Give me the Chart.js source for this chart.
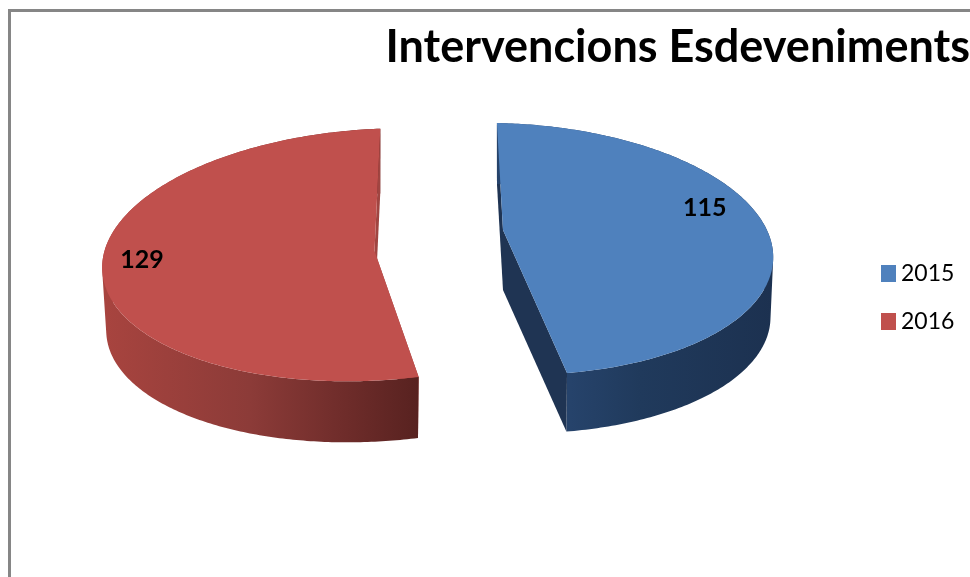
<!DOCTYPE html>
<html><head><meta charset="utf-8">
<style>
html,body{margin:0;padding:0;background:#fff;overflow:hidden}
#wrap{position:absolute;left:0;top:0;width:970px;height:577px}
#frame{position:absolute;left:8px;top:9px;width:962px;height:568px;border-left:3px solid #868686;border-top:3px solid #868686;box-sizing:border-box}
canvas{position:absolute;left:0;top:0}
</style>
<script src="https://cdn.jsdelivr.net/npm/chart.js@4"></script>
</head><body>
<div id="wrap"><div id="frame"></div><canvas id="c" width="970" height="577"></canvas></div>
<script>
const chartTitle = 'Intervencions Esdeveniments';
const categories = ['2015', '2016'];
const values = [115, 129];
const sliceColors = ['#4f81bd', '#c0504d'];

// Perspective view of each exploded slice
const views = [
  {ax:503, ay:230, rx:266, ry:123, k:0.15, sxy:7,  syx:5,   depth:60, bs:0.99,
   cut:'#1f3453', wall:[[570,'#26436b'],[640,'#203a5c'],[773,'#1c3150']], lx:0.758, ly:-0.18},
  {ax:374.5, ay:251, rx:272, ry:126, k:0.03, sxy:-6, syx:-10, depth:63, bs:0.985,
   cut:'#a04541', wall:[[103,'#a8443f'],[250,'#8c3b38'],[340,'#702d2b'],[418,'#582220']], lx:-0.855, ly:0.07}
];

function project(v, th, r){
  const u = r*Math.sin(th), w = -r*Math.cos(th), s = 1/(1 - v.k*w);
  return [v.ax + (v.rx*u + v.sxy*w)*s, v.ay + (v.ry*w + v.syx*u)*s];
}

const pie3d = {
  id:'pie3d',
  beforeDatasetsDraw(chart){
    const ctx = chart.ctx, meta = chart.getDatasetMeta(0);
    meta.data.forEach((arc,i)=>{
      const v = views[i], a0 = arc.startAngle + Math.PI/2, a1 = arc.endAngle + Math.PI/2;
      const n = Math.ceil((a1-a0)/(Math.PI/240));
      const rim = [];
      for(let j=0;j<=n;j++) rim.push(project(v, a0+(a1-a0)*j/n, 1));
      const apex = project(v,0,0);
      const low = p=>[apex[0]+(p[0]-apex[0])*v.bs, apex[1]+(p[1]-apex[1])*v.bs+v.depth];
      const trace = pts=>{
        let area=0;
        pts.forEach((p,j)=>{const q=pts[(j+1)%pts.length];area+=p[0]*q[1]-q[0]*p[1];});
        const seq = area<0 ? pts.slice().reverse() : pts;
        seq.forEach((p,j)=>j?ctx.lineTo(p[0],p[1]):ctx.moveTo(p[0],p[1]));
        ctx.closePath();
      };
      const poly = (pts,fill)=>{ctx.beginPath();trace(pts);ctx.fillStyle=fill;ctx.fill();};
      ctx.save();
      poly([apex,rim[0],low(rim[0]),low(apex)],v.cut);
      const xs = v.wall.map(s=>s[0]), x0=xs[0], x1=xs[xs.length-1];
      const g = ctx.createLinearGradient(x0,0,x1,0);
      v.wall.forEach(s=>g.addColorStop((s[0]-x0)/(x1-x0),s[1]));
      ctx.beginPath();
      for(let j=0;j<n;j++) trace([rim[j],rim[j+1],low(rim[j+1]),low(rim[j])]);
      ctx.fillStyle=g;ctx.fill();
      poly([apex,rim[n],low(rim[n]),low(apex)],v.cut);
      poly([apex].concat(rim),chart.data.datasets[0].backgroundColor[i]);
      ctx.restore();
    });
    return false;
  },
  afterDraw(chart){
    const ctx = chart.ctx, ds = chart.data.datasets[0];
    ctx.save();
    ctx.textBaseline='middle';
    // value labels
    ctx.font='bold 25px Lato';ctx.fillStyle='#000';ctx.textAlign='center';
    ds.data.forEach((val,i)=>{
      const v=views[i];
      ctx.fillText(String(val), v.ax+v.lx*v.rx, v.ay+v.ly*v.ry);
    });
    // legend
    ctx.textAlign='left';ctx.font='23px Lato';
    chart.data.labels.forEach((t,i)=>{
      const y=273+48*i;
      ctx.fillStyle=ds.backgroundColor[i];
      ctx.fillRect(881,y-8,15,17);
      ctx.fillStyle='#000';
      ctx.fillText(t,901,y+1);
    });
    ctx.restore();
  }
};

new Chart(document.getElementById('c'),{
  type:'pie',
  data:{labels:categories,datasets:[{data:values,backgroundColor:sliceColors,borderWidth:0}]},
  options:{
    responsive:false,animation:false,
    plugins:{
      legend:{display:false},tooltip:{enabled:false},
      title:{display:true,text:chartTitle,align:'end',color:'#000',
        font:{family:'Lato',size:45,weight:'bold'},padding:{top:20,bottom:10}}
    }
  },
  plugins:[pie3d]
});
</script>
</body></html>
